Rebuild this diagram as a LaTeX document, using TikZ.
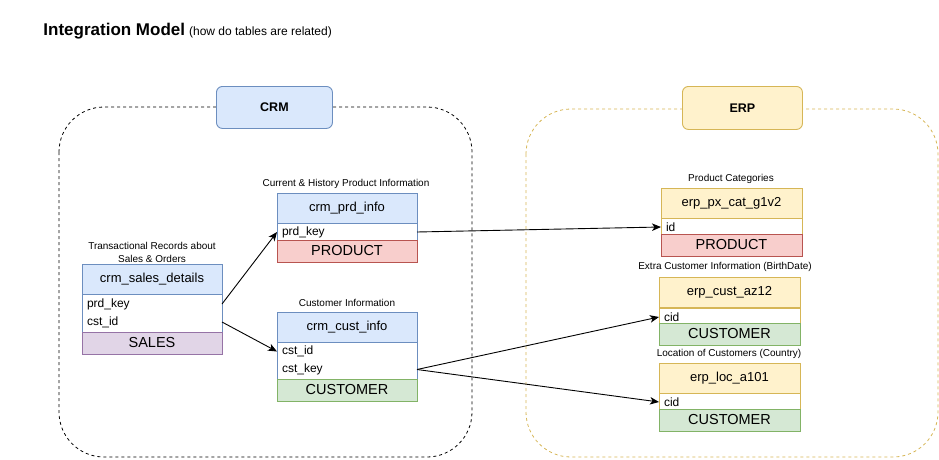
\documentclass[tikz,border=0pt]{standalone}
\usepackage{fontspec}
\setmainfont{Liberation Sans}
\usetikzlibrary{arrows.meta}

\definecolor{bluefill}{HTML}{DAE8FC}
\definecolor{bluedraw}{HTML}{6C8EBF}
\definecolor{yelfill}{HTML}{FFF2CC}
\definecolor{yeldraw}{HTML}{D6B656}
\definecolor{redfill}{HTML}{F8CECC}
\definecolor{reddraw}{HTML}{B85450}
\definecolor{grnfill}{HTML}{D5E8D4}
\definecolor{grndraw}{HTML}{82B366}
\definecolor{purfill}{HTML}{E1D5E7}
\definecolor{purdraw}{HTML}{9673A6}

\begin{document}
\begin{tikzpicture}[x=1pt, y=-1pt,
  line width=0.9pt,
  % generic rectangle anchored at its top-left corner
  cell/.style={anchor=north west, inner sep=0pt, outer sep=0pt},
  crmw/.style={minimum width=140pt},
  erpw/.style={minimum width=141pt},
  crmhead/.style={cell, crmw, minimum height=30pt, draw=bluedraw, fill=bluefill,
    font=\fontsize{13}{15}\selectfont},
  erphead/.style={cell, erpw, minimum height=30pt, draw=yeldraw, fill=yelfill,
    font=\fontsize{13}{15}\selectfont},
  rows/.style={cell, fill=white, draw=#1, minimum height=\rowsh},
  field/.style={cell, inner xsep=5pt, minimum height=18pt, align=left,
    font=\fontsize{12}{14}\selectfont},
  fieldc/.style={field, text width=130pt},
  fielde/.style={field, text width=131pt},
  band/.style={cell, minimum height=22pt, font=\fontsize{14.5}{16}\selectfont},
  caption/.style={font=\fontsize{10}{13}\selectfont, align=center, inner sep=0pt},
  group/.style={rounded corners=45pt, dash pattern=on 3pt off 3pt, line width=0.8pt},
  grouptag/.style={anchor=north west, inner sep=0pt, rounded corners=6pt,
    font=\bfseries\fontsize{12.5}{15}\selectfont},
  conn/.style={line width=0.9pt, -{Stealth[length=9pt, width=7.5pt, inset=2.5pt]}}
]
\useasboundingbox (0,0) rectangle (939,460);

% heading
\node[anchor=base west, inner sep=0pt] (title) at (43,36)
  {{\bfseries\fontsize{17}{20}\selectfont Integration Model}\hspace{4pt}{\fontsize{12}{14}\selectfont (how do tables are related)}};

% source systems
\draw[group] (59,107) rectangle (472,457);
\node[grouptag, draw=bluedraw, fill=bluefill, minimum width=116pt, minimum height=42pt] (crm) at (216,86) {CRM};
\draw[group, draw=yeldraw] (526,109) rectangle (938,457);
\node[grouptag, draw=yeldraw, fill=yelfill, minimum width=120pt, minimum height=43pt] (erp) at (682,86) {ERP};

% crm_sales_details
\node[caption] (salescap) at (152,252) {Transactional Records about\\Sales \& Orders};
\node[crmhead] (sales) at (82,264) {crm\_sales\_details};
\def\rowsh{38pt}
\node[rows=bluedraw, crmw] (salesrows) at (82,294) {};
\node[fieldc] (salesprd) at (82,295) {prd\_key};
\node[fieldc] (salescst) at (82,313) {cst\_id};
\node[band, crmw, draw=purdraw, fill=purfill] (salesband) at (82,332) {SALES};

% crm_prd_info
\node[caption] (prdcap) at (346,184) {Current \& History Product Information};
\node[crmhead] (prd) at (277,193) {crm\_prd\_info};
\def\rowsh{17pt}
\node[rows=bluedraw, crmw] (prdrows) at (277,223) {};
\node[fieldc, minimum height=17pt] (prdkey) at (277,223.5) {prd\_key};
\node[band, crmw, draw=reddraw, fill=redfill] (prdband) at (277,240) {PRODUCT};

% crm_cust_info
\node[caption] (custcap) at (347,303) {Customer Information};
\node[crmhead] (cust) at (277,312) {crm\_cust\_info};
\def\rowsh{37pt}
\node[rows=bluedraw, crmw] (custrows) at (277,342) {};
\node[fieldc] (custid) at (277,342.5) {cst\_id};
\node[fieldc] (custkey) at (277,360.5) {cst\_key};
\node[band, crmw, draw=grndraw, fill=grnfill] (custband) at (277,379) {CUSTOMER};

% erp_px_cat_g1v2
\node[caption] (catcap) at (731,179) {Product Categories};
\node[erphead] (cat) at (661,188) {erp\_px\_cat\_g1v2};
\def\rowsh{16pt}
\node[rows=yeldraw, erpw] (catrows) at (661,218) {};
\node[fielde, minimum height=17pt] (catid) at (661,218.5) {id};
\node[band, erpw, draw=reddraw, fill=redfill] (catband) at (661,234) {PRODUCT};

% erp_cust_az12
\node[caption] (azcap) at (725,267) {Extra Customer Information (BirthDate)};
\node[erphead] (az) at (659,277) {erp\_cust\_az12};
\def\rowsh{15pt}
\node[rows=yeldraw, erpw] (azrows) at (659,308) {};
\node[fielde, minimum height=17pt] (azcid) at (659,308.5) {cid};
\node[band, erpw, draw=grndraw, fill=grnfill] (azband) at (659,323) {CUSTOMER};

% erp_loc_a101
\node[caption] (loccap) at (729,354) {Location of Customers (Country)};
\node[erphead] (loc) at (659,363) {erp\_loc\_a101};
\def\rowsh{16pt}
\node[rows=yeldraw, erpw] (locrows) at (659,393) {};
\node[fielde, minimum height=17pt] (loccid) at (659,393.5) {cid};
\node[band, erpw, draw=grndraw, fill=grnfill] (locband) at (659,409) {CUSTOMER};

% relations
\draw[conn] (salesprd.east) -- (prdkey.west);
\draw[conn] (salescst.east) -- (custid.west);
\draw[conn] (prdkey.east) -- (catid.west);
\draw[conn] (custkey.east) -- (azcid.west);
\draw[conn] (custkey.east) -- (loccid.west);
\end{tikzpicture}
\end{document}
